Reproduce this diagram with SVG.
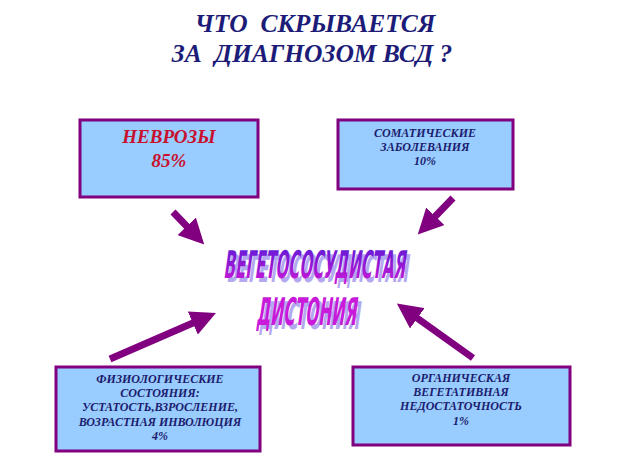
<svg xmlns="http://www.w3.org/2000/svg" width="632" height="476" viewBox="0 0 632 476">
<defs>
<style>
.box{fill:#99ccff;stroke:#800080;stroke-width:3}
.t{font-family:"Liberation Serif","Times New Roman",serif;font-weight:bold;font-style:italic;fill:#1c1c6e;text-anchor:middle}
.title{font-size:25.5px;fill:#1c1c78}
.s{font-size:12px}
.red{fill:#c8102e;font-size:19px}
.arr{stroke:#800080;stroke-width:7;fill:none;marker-end:url(#ah)}
.big{font-family:"DejaVu Sans Condensed","DejaVu Sans",sans-serif;font-weight:bold;font-size:38px;text-anchor:middle}
</style>
<marker id="ah" viewBox="0 0 10 10" refX="7" refY="5" markerWidth="3.6" markerHeight="3.6" orient="auto" markerUnits="strokeWidth">
<path d="M0,0 L10,5 L0,10 Z" fill="#800080"/>
</marker>
<linearGradient id="g" x1="0" y1="0" x2="0" y2="1">
<stop offset="0" stop-color="#5a1ed8"/>
<stop offset="0.5" stop-color="#9418d4"/>
<stop offset="1" stop-color="#d81ad8"/>
</linearGradient>
</defs>
<rect width="632" height="476" fill="#ffffff"/>
<g id="title">
<text class="t title" x="315" y="32" xml:space="preserve">ЧТО  СКРЫВАЕТСЯ</text>
<text class="t title" x="312" y="62" xml:space="preserve">ЗА  ДИАГНОЗОМ ВСД ?</text>
</g>
<g id="connectors">
<line class="arr" x1="173" y1="212" x2="199" y2="239"/>
<line class="arr" x1="453" y1="198" x2="423" y2="229"/>
<line class="arr" x1="110" y1="359" x2="209" y2="316"/>
<line class="arr" x1="473" y1="358" x2="403" y2="308"/>
</g>
<g id="n1">
<rect class="box" x="80" y="120" width="178" height="77"/>
<text class="t red" x="169" y="143">НЕВРОЗЫ</text>
<text class="t red" x="169" y="167">85%</text>
</g>
<g id="n2">
<rect class="box" x="338" y="120" width="175" height="69"/>
<text class="t s" x="425" y="137">СОМАТИЧЕСКИЕ</text>
<text class="t s" x="425" y="151">ЗАБОЛЕВАНИЯ</text>
<text class="t s" x="425" y="165">10%</text>
</g>
<g id="center">
<g transform="translate(314,278) skewX(-8) scale(0.44,1)">
<text class="big" x="8" y="4" fill="#b4a8f0">ВЕГЕТОСОСУДИСТАЯ</text>
<text class="big" x="0" y="0" fill="url(#g)">ВЕГЕТОСОСУДИСТАЯ</text>
</g>
<g transform="translate(306,325) skewX(-8) scale(0.455,1)">
<text class="big" x="8" y="4" fill="#b4a8f0">ДИСТОНИЯ</text>
<text class="big" x="0" y="0" fill="#c81ad8">ДИСТОНИЯ</text>
</g>
</g>
<g id="n3">
<rect class="box" x="56" y="367" width="204" height="84"/>
<text class="t s" x="160" y="383">ФИЗИОЛОГИЧЕСКИЕ</text>
<text class="t s" x="160" y="397">СОСТОЯНИЯ:</text>
<text class="t s" x="160" y="411">УСТАТОСТЬ,ВЗРОСЛЕНИЕ,</text>
<text class="t s" x="160" y="426">ВОЗРАСТНАЯ ИНВОЛЮЦИЯ</text>
<text class="t s" x="160" y="440">4%</text>
</g>
<g id="n4">
<rect class="box" x="353" y="367" width="217" height="78"/>
<text class="t s" x="461" y="382">ОРГАНИЧЕСКАЯ</text>
<text class="t s" x="461" y="396">ВЕГЕТАТИВНАЯ</text>
<text class="t s" x="461" y="410">НЕДОСТАТОЧНОСТЬ</text>
<text class="t s" x="461" y="425">1%</text>
</g>
</svg>
